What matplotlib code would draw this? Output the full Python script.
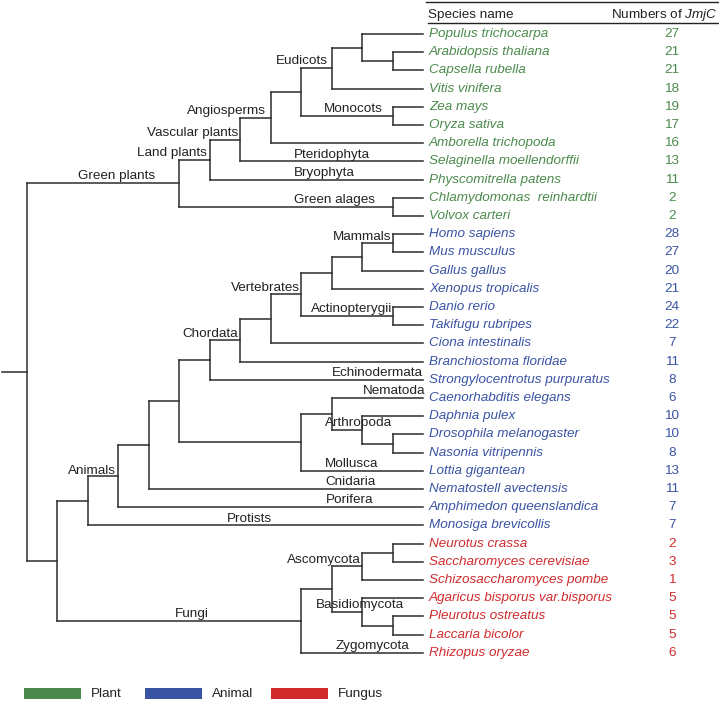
import matplotlib.pyplot as plt
from matplotlib.patches import Rectangle

plt.rcParams['font.family'] = ['Liberation Sans', 'DejaVu Sans']
plt.rcParams['mathtext.fontset'] = 'custom'
plt.rcParams['mathtext.rm'] = 'Liberation Sans'
plt.rcParams['mathtext.it'] = 'Liberation Sans:italic'

# leaves, top to bottom
species = ["Populus trichocarpa", "Arabidopsis thaliana", "Capsella rubella",
           "Vitis vinifera", "Zea mays", "Oryza sativa", "Amborella trichopoda",
           "Selaginella moellendorffii", "Physcomitrella patens",
           "Chlamydomonas  reinhardtii", "Volvox carteri",
           "Homo sapiens", "Mus musculus", "Gallus gallus", "Xenopus tropicalis",
           "Danio rerio", "Takifugu rubripes", "Ciona intestinalis",
           "Branchiostoma floridae", "Strongylocentrotus purpuratus",
           "Caenorhabditis elegans", "Daphnia pulex", "Drosophila melanogaster",
           "Nasonia vitripennis", "Lottia gigantean", "Nematostell avectensis",
           "Amphimedon queenslandica", "Monosiga brevicollis",
           "Neurotus crassa", "Saccharomyces cerevisiae", "Schizosaccharomyces pombe",
           "Agaricus bisporus var.bisporus", "Pleurotus ostreatus",
           "Laccaria bicolor", "Rhizopus oryzae"]
jmjc = [27, 21, 21, 18, 19, 17, 16, 13, 11, 2, 2,
        28, 27, 20, 21, 24, 22, 7, 11, 8, 6, 10, 10, 8, 13, 11, 7, 7,
        2, 3, 1, 5, 5, 5, 6]
groups = ["Plant", "Animal", "Fungus"]
group_sizes = [11, 17, 7]
group_colors = {"Plant": "#4b8a4c", "Animal": "#3a54a4", "Fungus": "#d02a2c"}

# tree: (clade label, depth level, children); leaves are species names
tree = ("", 0, [
    ("Green plants", 5, [
        ("Land plants", 6, [
            ("Vascular plants", 7, [
                ("Angiosperms", 8, [
                    ("", 9, [
                        ("Eudicots", 10, [
                            ("", 11, ["Populus trichocarpa",
                                      ("", 12, ["Arabidopsis thaliana", "Capsella rubella"])]),
                            "Vitis vinifera"]),
                        ("Monocots", 12, ["Zea mays", "Oryza sativa"])]),
                    "Amborella trichopoda"]),
                "Selaginella moellendorffii"]),
            "Physcomitrella patens"]),
        ("Green alages", 12, ["Chlamydomonas  reinhardtii", "Volvox carteri"])]),
    ("", 1, [
        ("Animals", 2, [
            ("", 3, [
                ("", 4, [
                    ("", 5, [
                        ("", 6, [
                            ("Chordata", 7, [
                                ("", 8, [
                                    ("Vertebrates", 9, [
                                        ("", 10, [
                                            ("", 11, [
                                                ("Mammals", 12, ["Homo sapiens", "Mus musculus"]),
                                                "Gallus gallus"]),
                                            "Xenopus tropicalis"]),
                                        ("Actinopterygii", 12, ["Danio rerio", "Takifugu rubripes"])]),
                                    "Ciona intestinalis"]),
                                "Branchiostoma floridae"]),
                            "Strongylocentrotus purpuratus"]),
                        ("", 9, [
                            ("", 10, [
                                "Caenorhabditis elegans",
                                ("Arthropoda", 11, ["Daphnia pulex",
                                                    ("", 12, ["Drosophila melanogaster", "Nasonia vitripennis"])])]),
                            "Lottia gigantean"])]),
                    "Nematostell avectensis"]),
                "Amphimedon queenslandica"]),
            "Monosiga brevicollis"]),
        ("Fungi", 9, [
            ("", 10, [
                ("Ascomycota", 11, [("", 12, ["Neurotus crassa", "Saccharomyces cerevisiae"]),
                                    "Schizosaccharomyces pombe"]),
                ("Basidiomycota", 11, ["Agaricus bisporus var.bisporus",
                                       ("", 12, ["Pleurotus ostreatus", "Laccaria bicolor"])])]),
            "Rhizopus oryzae"])])])

leaf_clades = {"Selaginella moellendorffii": "Pteridophyta",
               "Physcomitrella patens": "Bryophyta",
               "Strongylocentrotus purpuratus": "Echinodermata",
               "Caenorhabditis elegans": "Nematoda",
               "Lottia gigantean": "Mollusca",
               "Nematostell avectensis": "Cnidaria",
               "Amphimedon queenslandica": "Porifera",
               "Monosiga brevicollis": "Protists",
               "Rhizopus oryzae": "Zygomycota"}

# where each clade label sits along its branch (level, alignment)
label_x = {"Green plants": (4.2, "right"), "Land plants": (5.91, "right"),
           "Vascular plants": (6.93, "right"), "Angiosperms": (7.85, "right"),
           "Eudicots": (9.88, "right"), "Monocots": (11.69, "right"),
           "Pteridophyta": (8.77, "left"), "Bryophyta": (8.77, "left"),
           "Green alages": (8.77, "left"), "Mammals": (11.95, "right"),
           "Vertebrates": (8.96, "right"), "Actinopterygii": (9.32, "left"),
           "Chordata": (6.93, "right"), "Echinodermata": (10.01, "left"),
           "Nematoda": (11.03, "left"), "Arthropoda": (9.78, "left"),
           "Mollusca": (9.78, "left"), "Cnidaria": (9.78, "left"),
           "Porifera": (9.82, "left"), "Protists": (6.57, "left"),
           "Animals": (1.35, "left"), "Fungi": (4.86, "left"),
           "Ascomycota": (8.54, "left"), "Basidiomycota": (9.49, "left"),
           "Zygomycota": (10.14, "left")}
label_dy = {"Animals": -1.65}

LEAF = 13
lc = "#34342f"
lw = 1.15
fs = 9.7

fig = plt.figure(figsize=(7.19, 7.04), dpi=100)
ax = fig.add_axes([0, 0, 1, 1])
ax.set_xlim(-0.886, 22.718)
ax.set_ylim(36.813, -1.868)
ax.axis("off")


def put_label(name, y):
    x, ha = label_x[name]
    ax.text(x, y + label_dy.get(name, -0.37), name, ha=ha, va="center",
            fontsize=fs, color="#222222")


def draw(node, parent_level):
    if isinstance(node, str):
        y = species.index(node)
        ax.plot([parent_level, LEAF], [y, y], color=lc, lw=lw)
        if node in leaf_clades:
            put_label(leaf_clades[node], y)
        return y
    name, level, children = node
    ys = [draw(c, level) for c in children]
    y = (ys[0] + ys[-1]) / 2
    ax.plot([level, level], [ys[0], ys[-1]], color=lc, lw=lw)
    ax.plot([parent_level, level], [y, y], color=lc, lw=lw)
    if name:
        put_label(name, y)
    return y


draw(tree, -0.82)

# species names and counts
colors = []
for g, n in zip(groups, group_sizes):
    colors += [group_colors[g]] * n
for i, (sp, n) in enumerate(zip(species, jmjc)):
    ax.text(13.2, i, sp, ha="left", va="center", fontsize=fs, style="italic", color=colors[i])
    ax.text(21.17, i, str(n), ha="center", va="center", fontsize=fs, color=colors[i])

# header
ax.plot([13.1, 22.72], [-1.76, -1.76], color="#222222", lw=1.0)
ax.plot([13.17, 22.72], [-0.58, -0.58], color="#222222", lw=1.0)
ax.text(13.16, -1.06, "Species name", ha="left", va="center", fontsize=fs, color="#222222")
ax.text(22.66, -1.06, r"Numbers of $\mathit{JmjC}$", ha="right", va="center", fontsize=fs, color="#222222")

# legend
box_x = [24, 145, 271]
for bx, g in zip(box_x, groups):
    ax.add_patch(Rectangle((bx / 719, 1 - 699 / 704), 57 / 719, 11 / 704,
                           transform=ax.transAxes, color=group_colors[g], lw=0))
    ax.text((bx + 67) / 719, 1 - 694 / 704, g, transform=ax.transAxes,
            ha="left", va="center", fontsize=fs, color="#222222")

fig.savefig("out.png", dpi=100)
